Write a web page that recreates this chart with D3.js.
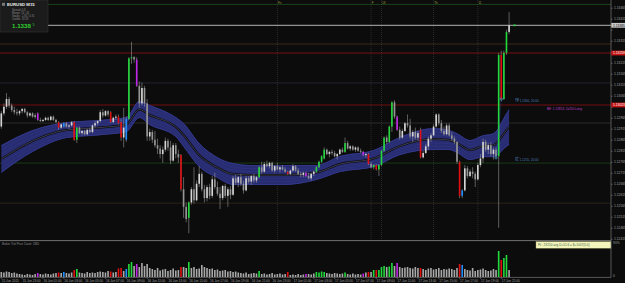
<!DOCTYPE html>
<html>
<head>
<meta charset="utf-8">
<script src="https://d3js.org/d3.v7.min.js"></script>
<style>
  html, body { margin: 0; padding: 0; background: #0c0c0c; }
  svg { display: block; font-family: 'Liberation Sans', Arial, sans-serif; }
  text { fill: #9c9c9c; font-size: 3.4px; }
  .axis path, .axis line { stroke: #8c8c8c; stroke-width: 0.6; }
  .axis text { fill: #a0a0a0; font-size: 3.3px; }
</style>
</head>
<body>
<div id="chart"></div>
<script>

///////////////////////////////////////////////////////////////////////////
//////////////////////////// Data ///////////////
///////////////////////////////////////////////////////////////////////////

// EURUSD M15, values in pips above BASE: [open, high, low, close]
const BASE = 1.12, PIP = 0.0001;
const candles = [
  [92.5,99.5,91.5,98.5],[98.5,103,97.5,101.5],[101.5,107.7,100.5,105],[105,106,101,102],[102,103,99,100],
  [100,101.5,98,99],[99,100.5,97.5,98.5],[98.5,100,97.5,99.5],[99.5,101,98.5,100.5],[100.5,101,98.5,99],
  [99,99.5,96.5,97.5],[97.5,99,97,98.5],[98.5,99,96.5,97],[97,98.5,96,97.5],[98.5,99,95,95.5],
  [95.5,96.5,94.5,95],[95,96,94.5,95.5],[95.5,97,95,96.5],[96.5,97,95,95.5],[95.5,97.5,95,97],
  [97,97.5,95,95.5],[95.5,96,94,94.5],[94.5,95,91,92],[92,94,91.5,93.5],[92.5,94.5,92,94],
  [94,94.5,92,92.5],[92.5,93.5,91.5,93],[93,95,92.5,94.5],[94.5,95,86,86.5],[86.5,92.5,85,92],
  [92,92.5,89,89.5],[89.5,91,88.5,90.5],[90.5,91,88.5,89],[89,91.5,88.5,91],[91,92,89.5,90],
  [90,93.5,89.5,93],[93,95,92,94],[94,95.5,93,95],[95,100,94.5,99],[99,100.5,96.5,97.5],
  [97.5,100,97,99.5],[99.5,100,97,98],[99,99.5,94,94.5],[94.5,97,94,96.5],[96.5,98,95.5,97],
  [97,98,93.5,94],[94.5,96,86,87.5],[87.5,101,83,92],[86.5,97,85.5,96],[96,124,95.5,123.5],
  [123.5,131,121,124],[124,124.5,121.5,123],[123,124,110.5,111],[111,113,101,103],[103,112.5,102,110],
  [110,111,101.5,103],[103,105,86,88],[88,91.5,86,90],[90,91,85,86.5],[86.5,90.5,83,84],
  [84,87,80,82.5],[82.5,84,78,80],[80,83.5,76,82],[82,87.5,81,86],[86,87,81.5,83],
  [83,86,75.5,77],[77,85,76.5,84],[84,85,78,80],[80,82,76,78.5],[79.5,80,63,64],
  [64,69.5,51,56],[56,58,49,50.5],[51,58.5,44,58],[58,65,57,64],[64,74,57.5,59],
  [59,68,58.5,66.5],[66.5,74.5,65,71],[71,72,63,64],[64,66,58,60],[60,66,58.5,65],
  [65,66.5,59.5,61],[61,70,60,68.5],[68.5,71.5,64,65],[65,67.5,61,62],[62,65,55,60],
  [60,66,59,65.5],[65.5,66.5,60,61],[61,65,56,64],[64,65.5,59.5,61.5],[61.5,70,61,69],
  [69,70.5,66,67],[67,70,65,69.5],[69.5,71,65.5,66.5],[66.5,68,62,63.5],[63.5,70,63,69],
  [69,70,66.5,67.5],[67.5,70.5,66,70],[70,71,67,68],[68,70,67,69.5],[69.5,74.5,69,74],
  [74,76.5,71,72],[72,76.5,71.5,75.5],[75.5,77,74,74.5],[74.5,76.5,73.5,76],[76,76.5,72,72.5],
  [72.5,75,71.5,74.5],[74.5,76,72.5,73],[73,74.5,71.5,74],[74,75,72.5,73],[73,74,71.5,72],
  [72,72.5,70.5,71],[71,73,70.5,72.5],[72.5,75.5,72,74.5],[74.5,75,72,72.5],[72.5,73.5,70.5,71],
  [71,72,69.5,70.5],[70.5,72,69.5,71.5],[71.5,72,69.5,70],[70,71.5,68.5,69],[69,71.5,68,71],
  [71,72.5,70,72],[72,74.5,71.5,74],[74,77,73.5,76.5],[76.5,79.5,76,79],[78,83,77.5,82],
  [82,82.5,79.5,80],[80,81.5,78.5,81],[81,82,79.5,80.5],[80.5,81.5,78.5,79],[79,80.5,77.5,80],
  [80,82.5,79.5,82],[82,83,80.5,81],[81,87.5,80.5,85],[85,86,82,82.5],[82.5,84,81.5,83.5],
  [83.5,84,81.5,82],[82,83.5,81,83],[83,83.5,81,81.5],[81.5,82.5,80.5,81],[81,81.5,79,79.5],
  [79.5,80.5,78.5,80],[80,80.5,75,75.5],[75.5,76.5,73.5,74],[74,75.5,73,75],[75,75.5,72.5,73],
  [73,75.5,70,75],[75,82,74.5,81.5],[81.5,88,81,87.5],[87.5,88.5,84.5,85.5],[85.5,93,85,92.5],
  [92.5,104,90,103.5],[103.5,104.5,96,97],[97,97.5,90.5,91],[91,92.5,86.5,87.5],[87.5,91.5,87,90.5],
  [90.5,94.5,90,94],[94,98,92,93],[93,96,87,88],[88,91,85.5,90],[90,92,86.5,87.5],
  [87.5,90.5,86,89.5],[91,92,78,78.5],[78.5,81.5,78,80.5],[80.5,84.5,80,83.5],[83.5,88,82,87],
  [87,89.5,85.5,88.5],[88.5,93.5,88,92.5],[92.5,98.5,92,98],[98,98.5,93,94],[94,95.5,89.5,90.5],
  [90.5,92.5,88.5,89],[89,94,88.5,93],[93,94,88,88.5],[88.5,90,86,87],[87,88,84.5,85.5],
  [85.5,86,75.5,76.5],[76.5,77,60,61],[61,64,60,63.5],[63.5,75,63,73.5],[73.5,74.5,69,70],
  [70,73,69.5,72],[72,74,69,71],[71,72,65,68.5],[68.5,76,68,75],[75,80,74,78],
  [78,87,76,85.5],[85.5,86.5,81,82],[82,85,80,84],[84,85.5,79,80],[80,83,77.5,82],
  [82,83,78,79],[79,126,46.5,125],[125,127,104,105],[105,127,104.5,126],[126,136.5,125,135.5],
  [135.5,144.5,134.5,138.5]
];

// tick volume per bar
const volumes = [
  500,450,550,500,400,450,350,300,250,200,
  300,250,200,300,400,300,250,350,300,250,
  350,400,450,400,500,400,350,450,700,800,
  450,400,350,500,400,450,400,500,550,500,
  450,600,550,450,500,850,900,600,800,1300,
  1500,1100,1300,1000,1400,1100,1300,900,800,700,
  900,650,750,800,600,700,850,650,700,1000,
  1000,900,1500,900,1000,800,850,1200,1000,900,
  800,850,700,750,600,650,700,550,600,500,
  550,450,400,350,450,300,350,400,350,600,
  300,350,250,300,400,250,300,350,250,300,
  500,200,250,200,300,200,250,300,300,250,
  350,500,450,550,500,400,350,300,400,350,
  300,350,450,300,250,350,250,300,250,350,
  450,500,500,700,700,700,1000,1100,1000,1050,
  1400,1100,1400,1000,900,950,1000,900,850,1000,
  900,900,800,700,850,900,750,800,900,700,
  800,750,850,800,700,900,1300,1200,800,700,
  650,900,600,700,750,850,700,600,650,800,
  700,2600,1700,1900,2200,700
];

// highlighted bars (G green, R red, P purple, B blue); the rest are plain gray
const barClass = {14:'P',22:'R',24:'B',28:'R',29:'G',42:'R',45:'R',46:'R',48:'B',49:'G',50:'G',52:'P',
  69:'R',72:'G',99:'G',110:'R',117:'P',121:'G',122:'G',123:'G',124:'G',132:'G',139:'P',141:'R',
  143:'G',144:'R',145:'G',146:'G',147:'G',149:'G',150:'G',152:'P',161:'R',176:'R',177:'B',
  191:'G',192:'R',193:'G',194:'G'};

// envelope band: [bar, upper, lower] in pips above BASE
const bandPoints = [
  [0,84.1,71.4],[12,90.9,80.9],[25,94.5,87.3],[38,95.5,88.6],[48,96.8,90],[53,104.1,96.4],
  [57,102.3,93.2],[67,96.8,87.7],[70,94.1,83.2],[76,85,74.1],[83,78.6,69.1],[89,75.9,65.9],
  [96,75,65.9],[108,75,65.9],[121,75,68.2],[130,79.1,71.8],[143,81.8,74.1],[153,87.7,79.5],
  [166,91.8,81.8],[172,90.9,81.8],[175,89.5,80.5],[180,86.4,77.3],[185,88.6,78.6],[189,89.5,78.6],
  [194,98.6,83.2],[195,100.5,84]
];

const priceTicks = [1.13465,1.13415,1.13365,1.13315,1.13265,1.13215,1.13165,1.13115,1.13065,1.13015,
  1.12965,1.12915,1.12865,1.12815,1.12765,1.12715,1.12665,1.12615,1.12565,1.12515,1.12465,1.12415];

const timeLabels = ["15 Jun 2015","15 Jun 23:00","16 Jun 01:00","16 Jun 03:00","16 Jun 05:00",
  "16 Jun 07:00","16 Jun 09:00","16 Jun 11:00","16 Jun 13:00","16 Jun 15:00","16 Jun 17:00",
  "16 Jun 19:00","16 Jun 21:00","16 Jun 23:00","17 Jun 01:00","17 Jun 03:00","17 Jun 05:00",
  "17 Jun 07:00","17 Jun 09:00","17 Jun 11:00","17 Jun 13:00","17 Jun 15:00","17 Jun 17:00",
  "17 Jun 19:00","17 Jun 21:00"];

// horizontal price lines
const levels = [
  {price:1.13480, color:'#1f5a1f'},
  {price:1.13300, color:'#4a3a1c'},
  {price:1.13259, color:'#a81212', tag:true},
  {price:1.13123, color:'#2c2f3e'},
  {price:1.13023, color:'#a01010', tag:true},
  {price:1.12941, color:'#3a3a3a'},
  {price:1.12759, color:'#1e4e1e'},
  {price:1.12577, color:'#3a2e1e'}
];
const bid = 1.13385;

// period separators / event flags: [bar, label]
const flags = [[106,'Fri'],[142,'F'],[146,'18'],[166,'Th'],[183,'11']];

// trade markers: [bar, price]
const trades = [[190,1.12783],[192,1.13050]];

const notes = [
  {price:1.13040, x:515, text:'TP 1.1300, 20:00', color:'#4d7fba'},
  {price:1.13005, x:547, text:'BE: 1.12813, 2x250 Long', color:'#b83cc8'},
  {price:1.12773, x:515, text:'SL 1.1255, 20:00', color:'#4d7fba'}
];

///////////////////////////////////////////////////////////////////////////
//////////////////////////// Set up svg ///////////////////////////////////
///////////////////////////////////////////////////////////////////////////

const W = 625, H = 283;
const axisX = 611, mainBottom = 239.5, volTop = 243, volBottom = 277;

const svg = d3.select('#chart').append('svg')
  .attr('width', W).attr('height', H);

svg.append('rect').attr('width', W).attr('height', H).attr('fill', '#0c0c0c');

const px = v => BASE + v * PIP;

const x = d3.scaleBand().domain(d3.range(candles.length)).range([0, candles.length * 2.604]);
const xc = i => x(i) + x.bandwidth() / 2;
const y = d3.scaleLinear().domain([1.12414, 1.135]).range([239, 0]);
const yv = d3.scaleLinear().domain([0, 3400]).range([volBottom, volTop]);

const colors = {G:'#22d83c', R:'#e01010', P:'#c026e6', B:'#1f8fff'};
const barColor = (d, i) => colors[barClass[i]] || (d[3] >= d[0] ? '#d6d6d6' : '#969696');
const volColor = i => colors[barClass[i]] || '#a8a8a8';

svg.append('clipPath').attr('id', 'mainClip')
  .append('rect').attr('x', 0).attr('y', 0).attr('width', axisX).attr('height', mainBottom);

const main = svg.append('g').attr('clip-path', 'url(#mainClip)');

// price levels
main.selectAll('.level').data(levels).enter().append('line')
  .attr('x1', 0).attr('x2', axisX)
  .attr('y1', d => y(d.price)).attr('y2', d => y(d.price))
  .attr('stroke', d => d.color).attr('stroke-width', 0.7);

main.append('line')
  .attr('x1', 0).attr('x2', axisX).attr('y1', y(bid)).attr('y2', y(bid))
  .attr('stroke', '#b4b4b4').attr('stroke-width', 1);

// separators
main.selectAll('.flag').data(flags).enter().append('line')
  .attr('x1', d => xc(d[0])).attr('x2', d => xc(d[0]))
  .attr('y1', 0).attr('y2', mainBottom)
  .attr('stroke', '#4a4a4a').attr('stroke-width', 0.5).attr('stroke-dasharray', '1,1');

main.selectAll('.flagText').data(flags).enter().append('text')
  .attr('x', d => xc(d[0]) + 0.6).attr('y', 4)
  .style('fill', '#9a9a3a').style('font-size', '3px')
  .text(d => d[1]);

///////////////////////////////////////////////////////////////////////////
//////////////////////////// Envelope band ////////////////////////////////
///////////////////////////////////////////////////////////////////////////

const bandAt = t => d3.line()
  .x(d => xc(d[0]))
  .y(d => y(px(d[2] + (d[1] - d[2]) * t)))
  .curve(d3.curveMonotoneX);

main.append('path').datum(bandPoints)
  .attr('d', d3.area().x(d => xc(d[0])).y0(d => y(px(d[2]))).y1(d => y(px(d[1]))).curve(d3.curveMonotoneX))
  .attr('fill', '#282c70');

[0.03, 0.97].forEach(t => main.append('path').datum(bandPoints)
  .attr('d', bandAt(t)).attr('fill', 'none').attr('stroke', '#33388a').attr('stroke-width', 1));

[0.18, 0.32, 0.68, 0.82].forEach(t => main.append('path').datum(bandPoints)
  .attr('d', bandAt(t)).attr('fill', 'none').attr('stroke', '#363c92').attr('stroke-width', 0.4));

main.append('path').datum(bandPoints)
  .attr('d', bandAt(0.5)).attr('fill', 'none').attr('stroke', '#07070c').attr('stroke-width', 2);
main.append('path').datum(bandPoints)
  .attr('d', bandAt(0.5)).attr('fill', 'none').attr('stroke', '#6e6e7c').attr('stroke-width', 0.55);

///////////////////////////////////////////////////////////////////////////
//////////////////////////// Candles //////////////////////////////////////
///////////////////////////////////////////////////////////////////////////

const bw = x.bandwidth() * 0.62;

main.selectAll('.wick').data(candles).enter().append('line')
  .attr('x1', (d, i) => xc(i)).attr('x2', (d, i) => xc(i))
  .attr('y1', d => y(px(d[1]))).attr('y2', d => y(px(d[2])))
  .attr('stroke', '#a2a2a2')
  .attr('stroke-width', 0.55);

main.selectAll('.body').data(candles).enter().append('rect')
  .attr('x', (d, i) => xc(i) - bw / 2)
  .attr('width', bw)
  .attr('y', d => y(px(Math.max(d[0], d[3]))))
  .attr('height', d => Math.max(0.6, Math.abs(y(px(d[0])) - y(px(d[3])))))
  .attr('fill', (d, i) => barColor(d, i));

// trades
main.append('line')
  .attr('x1', xc(trades[0][0])).attr('y1', y(trades[0][1]))
  .attr('x2', xc(trades[1][0])).attr('y2', y(trades[1][1]))
  .attr('stroke', '#2a66c4').attr('stroke-width', 0.5).attr('stroke-dasharray', '0.8,0.8');

main.selectAll('.trade').data(trades).enter().append('circle')
  .attr('cx', d => xc(d[0])).attr('cy', d => y(d[1])).attr('r', 1.2)
  .attr('fill', 'none').attr('stroke', '#46b4f0').attr('stroke-width', 0.5);

main.append('rect')
  .attr('x', xc(candles.length - 1) + 4.5).attr('y', y(bid) - 0.9)
  .attr('width', 2).attr('height', 1.8).attr('fill', '#22d83c');

// notes
svg.selectAll('.note').data(notes).enter().append('text')
  .attr('x', d => d.x).attr('y', d => y(d.price) + 1.2)
  .style('fill', d => d.color).style('font-size', '3.1px')
  .text(d => d.text);

svg.selectAll('.noteBar').data(notes.filter(d => d.x === 515)).enter().append('line')
  .attr('x1', d => d.x).attr('x2', d => d.x + 4)
  .attr('y1', d => y(d.price) - 2.6).attr('y2', d => y(d.price) - 2.6)
  .attr('stroke', d => d.color).attr('stroke-width', 0.5);

///////////////////////////////////////////////////////////////////////////
//////////////////////////// Volume pane //////////////////////////////////
///////////////////////////////////////////////////////////////////////////

svg.selectAll('.vol').data(volumes).enter().append('rect')
  .attr('x', (d, i) => xc(i) - bw / 2)
  .attr('width', bw)
  .attr('y', d => yv(d))
  .attr('height', d => volBottom - yv(d))
  .attr('fill', (d, i) => volColor(i));

svg.append('text').attr('x', 2).attr('y', 245.3)
  .style('font-size', '2.8px').style('fill', '#8c8c8c')
  .text('Broker Tick Price    Count: 1865');

svg.append('rect').attr('x', 536).attr('y', 241.6).attr('width', 75).attr('height', 6.6)
  .attr('fill', '#f3f3bc').attr('stroke', '#9a9a60').attr('stroke-width', 0.4);
svg.append('text').attr('x', 538).attr('y', 246.2)
  .style('fill', '#3d6a3d').style('font-size', '3.1px')
  .text('PL: 2X250 avg D+51.6 = $+1007(5.0)');

svg.append('text').attr('x', 613).attr('y', 244.2).text('90%');
svg.append('text').attr('x', 613).attr('y', 276.8).text('0');

///////////////////////////////////////////////////////////////////////////
//////////////////////////// Frame and axes ///////////////////////////////
///////////////////////////////////////////////////////////////////////////

svg.append('line').attr('x1', 0).attr('x2', axisX).attr('y1', 240.6).attr('y2', 240.6)
  .attr('stroke', '#8a8a8a').attr('stroke-width', 0.8);
svg.append('line').attr('x1', 0).attr('x2', axisX).attr('y1', volBottom + 0.4).attr('y2', volBottom + 0.4)
  .attr('stroke', '#8a8a8a').attr('stroke-width', 0.6);
svg.append('line').attr('x1', axisX).attr('x2', axisX).attr('y1', 0).attr('y2', volBottom + 0.4)
  .attr('stroke', '#8a8a8a').attr('stroke-width', 0.6);

// price tags on the axis (they cover the regular tick labels that sit under them)
const tags = levels.filter(d => d.tag).map(d => ({price: d.price, bg: '#c41414', fg: '#ffffff'}))
  .concat([{price: bid, bg: '#c8c8c8', fg: '#101010'}]);
const covered = v => tags.some(t => Math.abs(y(t.price) - y(v)) < 5);

const yAxis = d3.axisRight(y)
  .tickValues(priceTicks)
  .tickFormat(v => covered(v) ? '' : d3.format('.5f')(v))
  .tickSize(1.5).tickSizeOuter(0).tickPadding(1.5);

const yAxisG = svg.append('g').attr('class', 'axis')
  .attr('transform', 'translate(' + axisX + ',0)')
  .call(yAxis);
yAxisG.select('.domain').remove();
yAxisG.selectAll('text').attr('font-size', null);

const tagG = svg.selectAll('.tag').data(tags).enter().append('g')
  .attr('transform', d => 'translate(' + axisX + ',' + y(d.price) + ')');
tagG.append('rect').attr('x', 0.3).attr('y', -2.4).attr('width', 14).attr('height', 4.8)
  .attr('fill', d => d.bg);
tagG.append('text').attr('x', 2).attr('y', 1.2)
  .style('fill', d => d.fg).style('font-size', '3.3px')
  .text(d => d3.format('.5f')(d.price));

const labelBars = timeLabels.map((t, k) => k * 8);
const xAxis = d3.axisBottom(x)
  .tickValues(labelBars)
  .tickFormat((d, k) => timeLabels[k])
  .tickSize(1.5).tickSizeOuter(0).tickPadding(0.8);

const xAxisG = svg.append('g').attr('class', 'axis')
  .attr('transform', 'translate(0,' + (volBottom + 0.4) + ')')
  .call(xAxis);
xAxisG.select('.domain').remove();
xAxisG.selectAll('text').attr('font-size', null)
  .attr('text-anchor', 'start').attr('x', 0.5).style('font-size', '3.1px');

///////////////////////////////////////////////////////////////////////////
//////////////////////////// Info box /////////////////////////////////////
///////////////////////////////////////////////////////////////////////////

const info = svg.append('g');
info.append('rect').attr('x', 0).attr('y', 0).attr('width', 48).attr('height', 32)
  .attr('fill', '#1b1b1b').attr('stroke', '#3a3a3a').attr('stroke-width', 0.5);
info.append('rect').attr('x', 2).attr('y', 2.8).attr('width', 3).attr('height', 3)
  .attr('fill', '#7a7a7a');
info.append('text').attr('x', 7).attr('y', 6)
  .style('fill', '#ececec').style('font-size', '4.3px').style('font-weight', 'bold')
  .text('EURUSD  M15');

const infoLines = ['Spread: 0.8', 'Range: 74 / 26', 'Swaps: -1.85 / 0.31', 'Candle: 13:28'];
info.selectAll('.infoLine').data(infoLines).enter().append('text')
  .attr('x', 12).attr('y', (d, i) => 10.5 + i * 3.3)
  .style('fill', '#8a8a8a').style('font-size', '2.6px')
  .text(d => d);

info.append('text').attr('x', 12).attr('y', 28)
  .style('fill', '#2ed12e').style('font-size', '6.2px').style('font-weight', 'bold')
  .text(d3.format('.4f')(Math.floor(bid * 10000) / 10000));
info.append('text').attr('x', 32.6).attr('y', 26)
  .style('fill', '#2ed12e').style('font-size', '3.5px')
  .text('5');

</script>
</body>
</html>
